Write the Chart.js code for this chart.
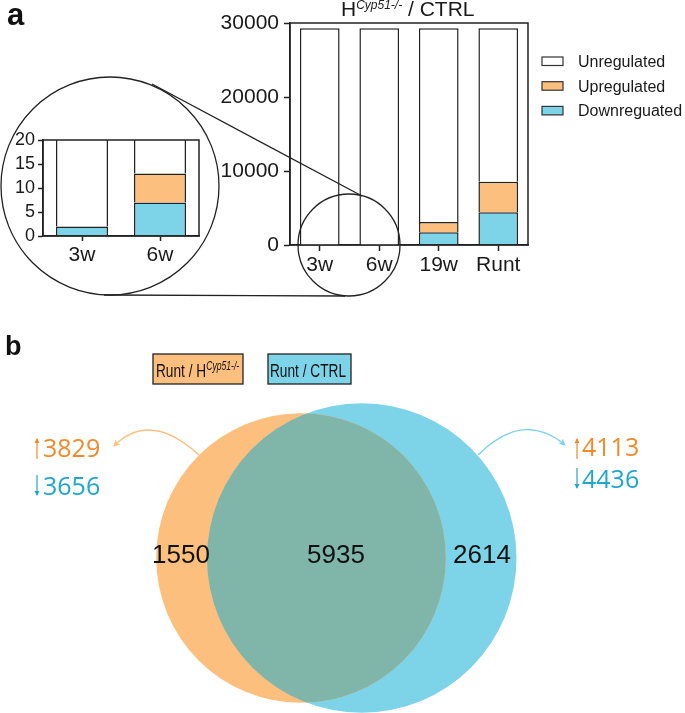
<!DOCTYPE html>
<html>
<head>
<meta charset="utf-8">
<script src="https://cdn.jsdelivr.net/npm/chart.js@4.4.1/dist/chart.umd.min.js"></script>
<style>
  body { margin: 0; background: #fff; }
  #wrap { position: relative; width: 685px; height: 713px; overflow: hidden; font-family: "Liberation Sans", Arial, sans-serif; }
  canvas { position: absolute; }
  #over { position: absolute; left: 0; top: 0; pointer-events: none; }
</style>
</head>
<body>
<div id="wrap">
  <canvas id="main" width="345" height="300" style="left:200px;top:0;width:345px;height:300px"></canvas>
  <canvas id="inset" width="215" height="160" style="left:0;top:120px;width:215px;height:160px"></canvas>
  <canvas id="venn" width="685" height="323" style="left:0;top:390px;width:685px;height:323px"></canvas>
  <svg id="over" width="685" height="713" xmlns="http://www.w3.org/2000/svg" font-family="Liberation Sans, Arial, sans-serif">
    <defs>
      <marker id="mo" markerWidth="8" markerHeight="8" refX="6" refY="4" orient="auto" markerUnits="userSpaceOnUse">
        <path d="M0,0.5 L7,4 L0,7.5 L2,4 Z" fill="#fdbf7e"/>
      </marker>
      <marker id="mb" markerWidth="8" markerHeight="8" refX="6" refY="4" orient="auto" markerUnits="userSpaceOnUse">
        <path d="M0,0.5 L7,4 L0,7.5 L2,4 Z" fill="#7dd3e8"/>
      </marker>
      <marker id="so" markerWidth="6" markerHeight="6" refX="4" refY="3" orient="auto" markerUnits="userSpaceOnUse">
        <path d="M0,0.5 L5,3 L0,5.5 Z" fill="#f08a2a"/>
      </marker>
      <marker id="sb" markerWidth="6" markerHeight="6" refX="4" refY="3" orient="auto" markerUnits="userSpaceOnUse">
        <path d="M0,0.5 L5,3 L0,5.5 Z" fill="#1fa6cd"/>
      </marker>
    </defs>

    <!-- panel a -->
    <text x="7" y="25" font-size="31" font-weight="bold" fill="#111">a</text>
    <text x="341" y="16" font-size="21" fill="#1a1a1a">H<tspan font-size="12" font-style="italic" dy="-7">Cyp51-/-</tspan><tspan dy="7"> / CTRL</tspan></text>

    <circle cx="110" cy="186" r="109" fill="none" stroke="#222" stroke-width="1.3"/>
    <circle cx="349" cy="245" r="51" fill="none" stroke="#222" stroke-width="1.3"/>
    <line x1="152" y1="84" x2="362" y2="196" stroke="#222" stroke-width="1.3"/>
    <line x1="104" y1="295" x2="345" y2="296" stroke="#222" stroke-width="1.3"/>

    <g id="legA" font-size="16" fill="#1a1a1a"></g>

    <!-- panel b -->
    <text x="5" y="355" font-size="27" font-weight="bold" fill="#111">b</text>
    <rect x="153" y="354" width="90" height="30" fill="#fdbf7e" stroke="#222" stroke-width="1.3"/>
    <rect x="268" y="354" width="83" height="30" fill="#7dd3e8" stroke="#222" stroke-width="1.3"/>
    <text id="setA" transform="translate(156,377) scale(0.72,1)" font-size="19" fill="#111"></text>
    <text id="setB" transform="translate(270,377) scale(0.72,1)" font-size="19" fill="#111"></text>

    <path d="M199,455 Q150,410 114,446" fill="none" stroke="#fdbf7e" stroke-width="1.3" marker-end="url(#mo)"/>
    <path d="M478,455 Q523,410 565,445" fill="none" stroke="#7dd3e8" stroke-width="1.3" marker-end="url(#mb)"/>

    <line x1="37" y1="459" x2="37" y2="439" stroke="#f08a2a" stroke-width="1.2" marker-end="url(#so)"/>
    <line x1="37" y1="475" x2="37" y2="495" stroke="#1fa6cd" stroke-width="1.2" marker-end="url(#sb)"/>
    <line x1="577" y1="459" x2="577" y2="439" stroke="#f08a2a" stroke-width="1.2" marker-end="url(#so)"/>
    <line x1="577" y1="468" x2="577" y2="488" stroke="#1fa6cd" stroke-width="1.2" marker-end="url(#sb)"/>
    <g font-family="Open Sans, sans-serif" font-size="25">
      <text id="upA" x="43" y="457" fill="#f08a2a"></text>
      <text id="downA" x="43" y="495" fill="#1fa6cd"></text>
      <text id="upB" x="582" y="456" fill="#f08a2a"></text>
      <text id="downB" x="582" y="488" fill="#1fa6cd"></text>
    </g>
    <g font-size="26" fill="#111" text-anchor="middle">
      <text id="onlyA" x="181" y="563"></text>
      <text id="both" x="336" y="563"></text>
      <text id="onlyB" x="482" y="563"></text>
    </g>
  </svg>
</div>

<script>
// ---- data ----
const categories = ['3w', '6w', '19w', 'Runt'];
const downregulated = [2, 7, 1720, 4436];
const upregulated = [0, 6, 1380, 4113];
const unregulated = [29278, 29267, 26180, 20731];
const seriesNames = ['Unregulated', 'Upregulated', 'Downreguated'];

const yTicksMain = [0, 10000, 20000, 30000];
const yTicksInset = [0, 5, 10, 15, 20];

const vennSets = ['Runt / H', 'Runt / CTRL'];
const vennOnly = [1550, 2614];
const vennShared = 5935;
const vennUp = [3829, 4113];
const vennDown = [3656, 4436];

const ORANGE = '#fdbf7e';
const BLUE = '#7dd3e8';
const TEAL = '#80b5aa';
const INK = '#222';
const FONT = '"Liberation Sans", Arial, sans-serif';

// draws the box around the plot area
const framePlugin = {
    id: 'frame',
    afterDatasetsDraw(chart) {
        const a = chart.chartArea;
        const ctx = chart.ctx;
        ctx.save();
        ctx.strokeStyle = INK;
        ctx.lineWidth = 1.5;
        ctx.strokeRect(a.left, a.top, a.right - a.left, a.bottom - a.top);
        ctx.restore();
    }
};

function barDatasets(n) {
    return [
        { label: seriesNames[2], data: downregulated.slice(0, n), backgroundColor: BLUE },
        { label: seriesNames[1], data: upregulated.slice(0, n), backgroundColor: ORANGE },
        { label: seriesNames[0], data: unregulated.slice(0, n), backgroundColor: '#fff' }
    ].map(d => Object.assign(d, { borderColor: INK, borderWidth: 1.5, barPercentage: 0.667, categoryPercentage: 1 }));
}

function barOptions(o) {
    return {
        responsive: false,
        animation: false,
        devicePixelRatio: 1,
        events: [],
        layout: { padding: { top: o.padTop, right: o.padRight, left: 0, bottom: 0 } },
        plugins: { legend: { display: false }, tooltip: { enabled: false } },
        scales: {
            x: {
                stacked: true,
                afterFit: s => { s.height = o.xHeight; },
                grid: { offset: false, drawOnChartArea: false, tickLength: o.tick, tickColor: INK, tickWidth: 1.5 },
                border: { color: INK, width: 1.5 },
                ticks: { color: '#1a1a1a', font: { family: FONT, size: o.xFont }, padding: o.xPad, maxRotation: 0 }
            },
            y: {
                stacked: true,
                min: 0,
                max: o.ticks[o.ticks.length - 1],
                afterFit: s => { s.width = o.yWidth; },
                afterBuildTicks: s => { s.ticks = o.ticks.map(v => ({ value: v })); },
                grid: { drawOnChartArea: false, tickLength: o.tick, tickColor: INK, tickWidth: 1.5 },
                border: { color: INK, width: 1.5 },
                ticks: { color: '#1a1a1a', font: { family: FONT, size: o.yFont }, padding: o.yPad, autoSkip: false, callback: v => String(v) }
            }
        }
    };
}

new Chart(document.getElementById('main'), {
    type: 'bar',
    data: { labels: categories, datasets: barDatasets(4) },
    options: barOptions({ padTop: 23, padRight: 17, xHeight: 55, yWidth: 90, tick: 6, xFont: 21, yFont: 21, xPad: 2, yPad: 5, ticks: yTicksMain }),
    plugins: [framePlugin]
});

new Chart(document.getElementById('inset'), {
    type: 'bar',
    data: { labels: categories.slice(0, 2), datasets: barDatasets(2) },
    options: barOptions({ padTop: 20, padRight: 16, xHeight: 44, yWidth: 43, tick: 5, xFont: 21, yFont: 18, xPad: 2, yPad: 3, ticks: yTicksInset }),
    plugins: [framePlugin]
});

// ---- legend of panel a ----
const legA = document.getElementById('legA');
const legFill = ['#fff', ORANGE, BLUE];
seriesNames.forEach((name, i) => {
    const y = 57 + i * 24.7;
    legA.innerHTML += `<rect x="542" y="${y}" width="21" height="8.5" fill="${legFill[i]}" stroke="#333" stroke-width="1.2"/>` +
        `<text x="578" y="${y + 10}">${name}</text>`;
});

// ---- Venn: area-proportional circles ----
const PX_PER_GENE = 8.8; // px^2 per gene
const totalA = vennOnly[0] + vennShared;
const totalB = vennOnly[1] + vennShared;
const rA = Math.sqrt(totalA * PX_PER_GENE / Math.PI);
const rB = Math.sqrt(totalB * PX_PER_GENE / Math.PI);

function lensArea(r1, r2, d) {
    if (d >= r1 + r2) return 0;
    if (d <= Math.abs(r1 - r2)) return Math.PI * Math.min(r1, r2) ** 2;
    const a = r1 * r1 * Math.acos((d * d + r1 * r1 - r2 * r2) / (2 * d * r1));
    const b = r2 * r2 * Math.acos((d * d + r2 * r2 - r1 * r1) / (2 * d * r2));
    const c = 0.5 * Math.sqrt((-d + r1 + r2) * (d + r1 - r2) * (d - r1 + r2) * (d + r1 + r2));
    return a + b - c;
}
let lo = Math.abs(rA - rB), hi = rA + rB;
const target = vennShared * PX_PER_GENE;
for (let i = 0; i < 60; i++) {
    const mid = (lo + hi) / 2;
    if (lensArea(rA, rB, mid) > target) lo = mid; else hi = mid;
}
const dist = (lo + hi) / 2;
const cxA = 301, cy = 168;

const lensPlugin = {
    id: 'lens',
    afterDatasetsDraw(chart) {
        const a = chart.getDatasetMeta(0).data[0];
        const b = chart.getDatasetMeta(1).data[0];
        const ctx = chart.ctx;
        ctx.save();
        ctx.beginPath();
        ctx.arc(a.x, a.y, a.options.radius, 0, Math.PI * 2);
        ctx.clip();
        ctx.beginPath();
        ctx.arc(b.x, b.y, b.options.radius, 0, Math.PI * 2);
        ctx.fillStyle = TEAL;
        ctx.fill();
        ctx.restore();
    }
};

new Chart(document.getElementById('venn'), {
    type: 'bubble',
    data: {
        datasets: [
            { label: vennSets[0], data: [{ x: cxA, y: cy, r: rA }], backgroundColor: ORANGE, borderWidth: 0 },
            { label: vennSets[1], data: [{ x: cxA + dist, y: cy, r: rB }], backgroundColor: BLUE, borderWidth: 0 }
        ]
    },
    options: {
        responsive: false,
        animation: false,
        devicePixelRatio: 1,
        events: [],
        clip: false,
        layout: { autoPadding: false, padding: 0 },
        plugins: { legend: { display: false }, tooltip: { enabled: false } },
        scales: {
            x: { type: 'linear', min: 0, max: 685, display: false },
            y: { type: 'linear', min: 0, max: 323, reverse: true, display: false }
        }
    },
    plugins: [lensPlugin]
});

// ---- Venn texts ----
document.getElementById('setA').innerHTML = vennSets[0] + '<tspan font-size="12" font-style="italic" dy="-7">Cyp51-/-</tspan>';
document.getElementById('setB').textContent = vennSets[1];
document.getElementById('upA').textContent = vennUp[0];
document.getElementById('downA').textContent = vennDown[0];
document.getElementById('upB').textContent = vennUp[1];
document.getElementById('downB').textContent = vennDown[1];
document.getElementById('onlyA').textContent = vennOnly[0];
document.getElementById('both').textContent = vennShared;
document.getElementById('onlyB').textContent = vennOnly[1];
</script>
</body>
</html>
